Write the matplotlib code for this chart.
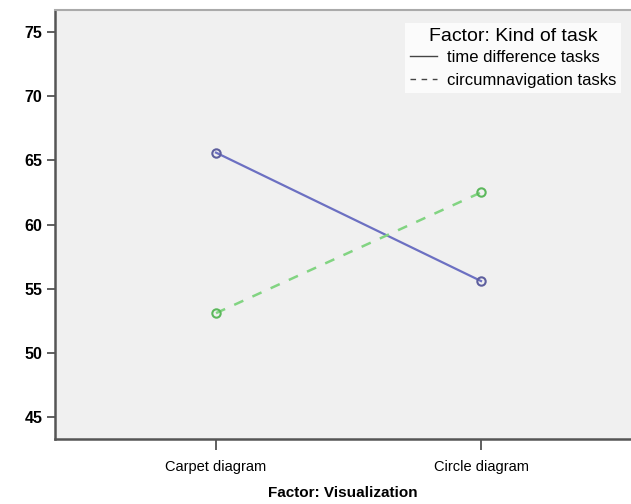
import matplotlib
matplotlib.use("Agg")
import matplotlib.pyplot as plt

# Estimated marginal means per visualization type
visualizations = ["Carpet diagram", "Circle diagram"]
time_difference = [65.6, 55.6]
circumnavigation = [53.1, 62.5]
y_ticks = [45, 50, 55, 60, 65, 70, 75]

plt.rcParams["font.family"] = ["Liberation Sans", "DejaVu Sans"]

fig = plt.figure(figsize=(6.31, 5.04), dpi=100)
ax = fig.add_axes([0.087, 0.129, 0.913, 0.851])
ax.set_facecolor("#f0f0f0")

x = list(range(len(visualizations)))
ax.plot(x, time_difference, color="#6c70c2", lw=1.6, ls="-",
        marker="o", ms=6, mfc="none", mec="#5e5f9e", mew=1.5,
        label="time difference tasks")
ax.plot(x, circumnavigation, color="#82d482", lw=1.8, ls=(0, (4, 4)),
        marker="o", ms=6, mfc="none", mec="#5cb85c", mew=1.5,
        label="circumnavigation tasks")

ax.set_xlim(-0.608, 1.566)
ax.set_ylim(43.3, 76.7)
ax.set_xticks(x)
ax.set_xticklabels(visualizations, fontsize=10.5)
ax.set_yticks(y_ticks)
ax.set_yticklabels([str(v) for v in y_ticks], fontsize=11.5, fontweight="bold")
ax.tick_params(axis="y", direction="out", length=6, width=1.2, color="#444444", pad=3)
ax.tick_params(axis="x", direction="out", length=8, width=1.2, color="#444444", pad=7)

for side in ("left", "bottom"):
    ax.spines[side].set_color("#555555")
    ax.spines[side].set_linewidth(1.8)
ax.spines["top"].set_color("#aaaaaa")
ax.spines["top"].set_linewidth(1.5)
ax.spines["right"].set_visible(False)

ax.set_xlabel("Factor: Visualization", fontsize=11, fontweight="bold", labelpad=9)

leg = ax.legend(title="Factor: Kind of task", loc="upper left",
                bbox_to_anchor=(0.642, 0.955), bbox_transform=fig.transFigure,
                fontsize=12, title_fontsize=14,
                frameon=True, fancybox=False, handlelength=1.6,
                handletextpad=0.6, borderpad=0.3, labelspacing=0.45,
                borderaxespad=0)
leg.get_frame().set_facecolor("white")
leg.get_frame().set_edgecolor("none")
leg._legend_box.sep = 4
for line in leg.get_lines():
    line.set_color("#444444")
    line.set_marker("")
    line.set_linewidth(1.0)

fig.savefig("out.png", dpi=100)
